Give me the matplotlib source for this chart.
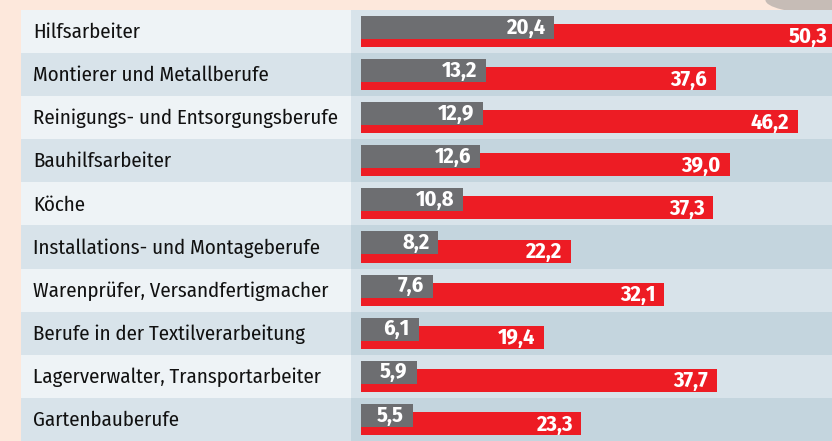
import matplotlib.pyplot as plt
from matplotlib.patches import Rectangle, Ellipse

# Data
jobs = ['Hilfsarbeiter', 'Montierer und Metallberufe', 'Reinigungs- und Entsorgungsberufe',
        'Bauhilfsarbeiter', 'Köche', 'Installations- und Montageberufe',
        'Warenprüfer, Versandfertigmacher', 'Berufe in der Textilverarbeitung',
        'Lagerverwalter, Transportarbeiter', 'Gartenbauberufe']
grey_vals = [20.4, 13.2, 12.9, 12.6, 10.8, 8.2, 7.6, 6.1, 5.9, 5.5]
red_vals = [50.3, 37.6, 46.2, 39.0, 37.3, 22.2, 32.1, 19.4, 37.7, 23.3]

PEACH = '#fde8dc'
LAB_LIGHT, LAB_DARK = '#eef3f6', '#d8e3ea'
BAR_LIGHT, BAR_DARK = '#d8e3ea', '#c4d5de'
GREY, RED = '#6d6e71', '#ed1c24'

W, H = 832, 441
fig = plt.figure(figsize=(W / 100, H / 100), dpi=100, facecolor=PEACH)
ax = fig.add_axes([0, 0, 1, 1])
ax.set_facecolor(PEACH)

# pixel layout -> data units
px_per_unit = 9.45
x0 = 361
row_h = 43.1
top = 10
ax.set_xlim(-x0 / px_per_unit, (W - x0) / px_per_unit)
ax.set_ylim((H - top) / row_h, -top / row_h)
ax.axis('off')

lab_left = (21 - x0) / px_per_unit
lab_right = (351 - x0) / px_per_unit
right_edge = (W - x0) / px_per_unit + 1

font = ['Fira Sans Condensed', 'Roboto Condensed', 'DejaVu Sans']
pad = 9 / px_per_unit

for i, job in enumerate(jobs):
    light = i % 2 == 0
    ax.add_patch(Rectangle((lab_left, i), lab_right - lab_left, 1,
                           color=LAB_LIGHT if light else LAB_DARK, lw=0))
    ax.add_patch(Rectangle((lab_right, i), right_edge - lab_right, 1,
                           color=BAR_LIGHT if light else BAR_DARK, lw=0))
    ax.text((33 - x0) / px_per_unit, i + 0.52, job, ha='left', va='center',
            fontsize=15, color='#111111', family=font)

yr = [i + 14 / row_h for i in range(len(jobs))]
yg = [i + 6 / row_h for i in range(len(jobs))]
ax.barh(yr, red_vals, height=23 / row_h, align='edge', color=RED, lw=0)
ax.barh(yg, grey_vals, height=23 / row_h, align='edge', color=GREY, lw=0)

for i, (g, r) in enumerate(zip(grey_vals, red_vals)):
    ax.text(g - pad, yg[i] + 11.5 / row_h, f'{g:.1f}'.replace('.', ','), ha='right',
            va='center', fontsize=16, fontweight='bold', color='white', family=font)
    ax.text(r - pad, yr[i] + 12.5 / row_h, f'{r:.1f}'.replace('.', ','), ha='right',
            va='center', fontsize=16, fontweight='bold', color='white', family=font)

# decorative shadow in the top right corner
fig.patches.append(Ellipse((0.985, 1.0), 0.13, 0.06, transform=fig.transFigure,
                           color='#b9b2ad', alpha=0.8, lw=0, zorder=-1))

fig.savefig('out.png', dpi=100, facecolor=PEACH)
